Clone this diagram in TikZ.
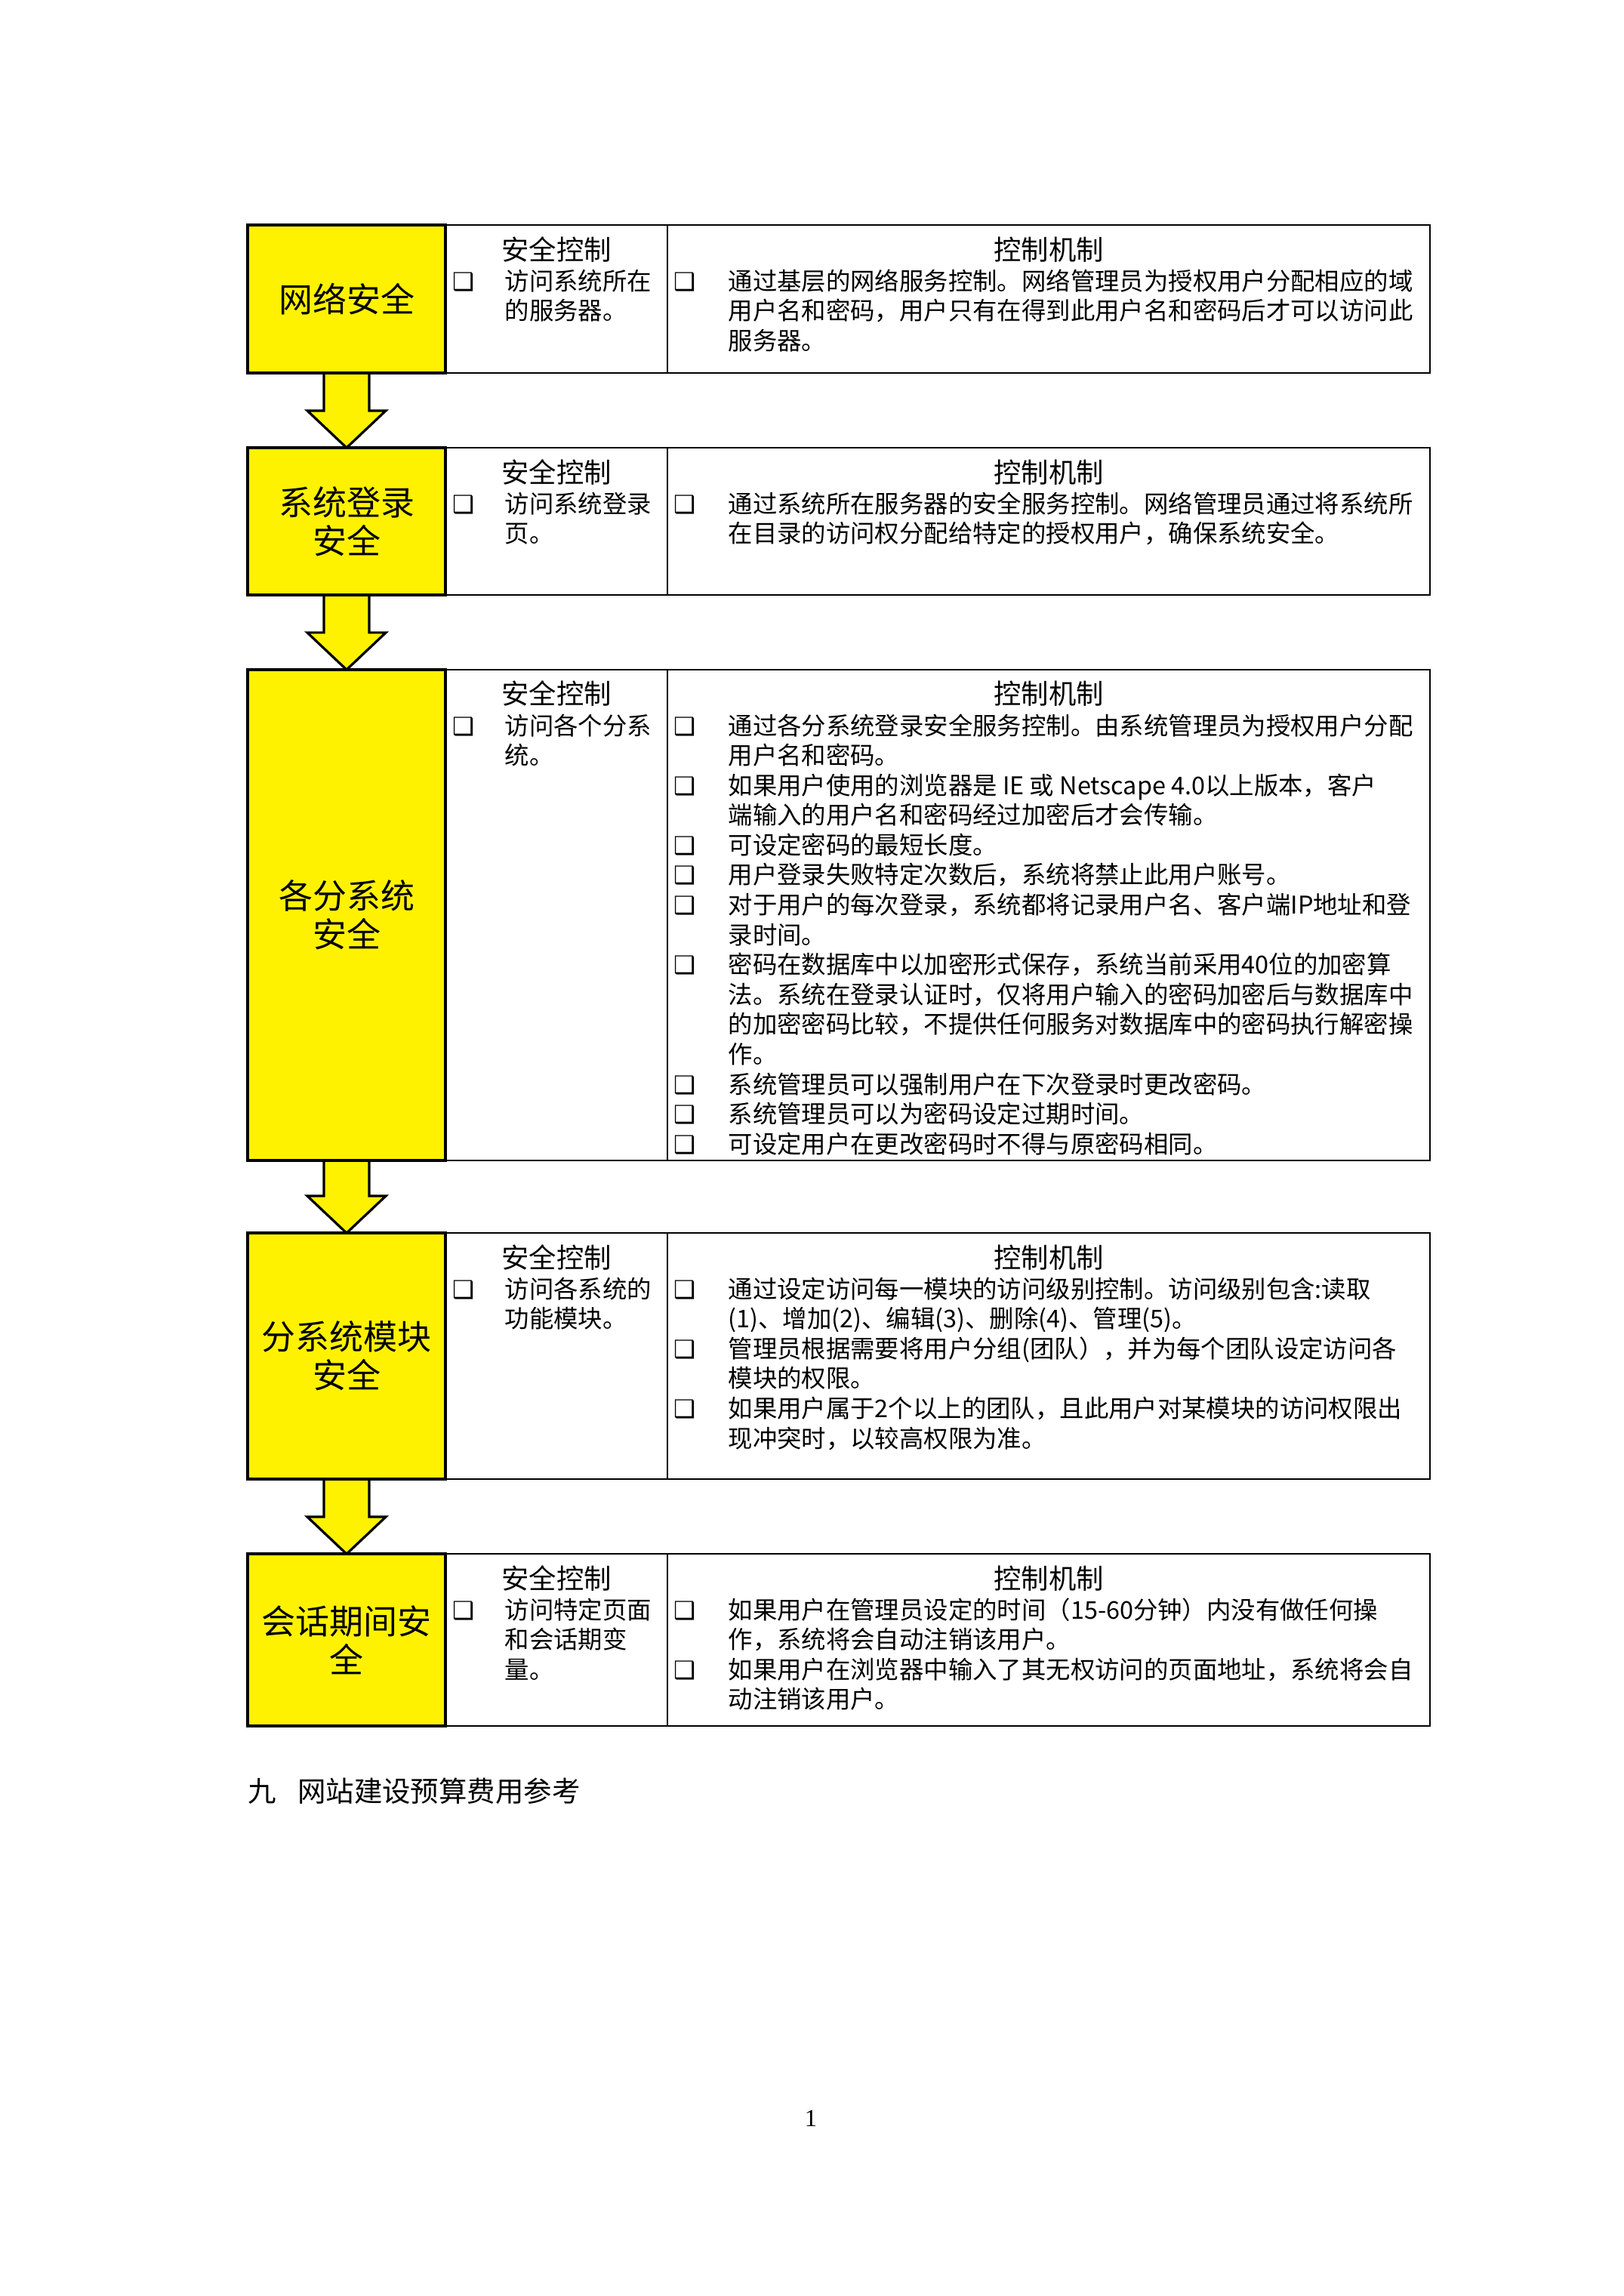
\documentclass[tikz,border=0pt]{standalone}
\usepackage{fontspec}
\newfontfamily\cjk{Noto Sans CJK SC}
\newfontfamily\dingfont{DejaVu Sans}
\newfontfamily\numfont{Liberation Serif}
\usetikzlibrary{calc,positioning,backgrounds}
\newlength\bulind
\newcommand\bul{{\dingfont\bfseries\fontsize{9}{9}\selectfont ❑}}
\newcommand\bitem[1]{\par\noindent\hangindent=\bulind\hangafter=1\makebox[\bulind][l]{\hspace{-0.15cm}\bul}#1}
\newcommand\midlist[1]{\parbox[t]{2.6cm}{\setlength\bulind{0.527cm}#1}}
\newcommand\ctllist[1]{\parbox[t]{9.6cm}{\setlength\bulind{0.557cm}#1}}
\def\blockarr(#1)(#2){\begin{scope}[on background layer]\draw[flowarrow] let \p1=(#1.south), \p2=(#2.north) in (\x1-0.293cm,\y1) -- (\x1-0.293cm,\y2+0.48cm) -- (\x1-0.508cm,\y2+0.48cm) -- (\x1,\y2) -- (\x1+0.508cm,\y2+0.48cm) -- (\x1+0.293cm,\y2+0.48cm) -- (\x1+0.293cm,\y1) -- cycle;\end{scope}}
\tikzset{
	secbox/.style={draw, line width=1.1pt, fill=yellow, minimum width=2.558cm, inner sep=0pt, outer sep=0pt, align=center, font=\cjk\fontsize{12.5}{14.2}\selectfont},
	tableline/.style={line width=0.7pt},
	divline/.style={line width=0.55pt},
	flowarrow/.style={draw=black, fill=yellow, line width=0.9pt, line join=miter},
	headtext/.style={anchor=base, inner sep=0pt, font=\cjk\fontsize{10.1}{12}\selectfont},
	listtext/.style={anchor=base west, inner sep=0pt, font=\cjk\fontsize{9}{11}\selectfont}
}
\begin{document}
\begin{tikzpicture}
				\useasboundingbox (0,0) rectangle (21,-29.7);
				
				\coordinate (colD) at (8.634,0);
				\coordinate (colR) at (18.499,0);
				\coordinate (midC) at (7.198,0);
				\coordinate (rightC) at (13.567,0);
				\coordinate (midB) at (5.996,0);
				\coordinate (rightB) at (8.857,0);
				
				\node[secbox, minimum height=1.914cm] (net) at (4.483,-3.868) {网络安全};
				\node[secbox, minimum height=1.904cm, below=0.967cm of net] (login) {系统登录\\安全};
				\node[secbox, minimum height=6.349cm, below=0.967cm of login] (subsys) {各分系统\\安全};
				\node[secbox, minimum height=3.184cm, below=0.938cm of subsys] (module) {分系统模块\\安全};
				\node[secbox, minimum height=2.227cm, below=0.967cm of module] (session) {会话期间安\\全};
				
				\foreach \r in {net,login,subsys,module,session}{
					\draw[tableline] (\r.north east) rectangle (\r.south -| colR);
					\draw[divline] (\r.north -| colD) -- (\r.south -| colD);
					\node[headtext] (\r-sc) at ($(\r.north -| midC)+(0,-0.449)$) {安全控制};
					\node[headtext] (\r-cm) at ($(\r.north -| rightC)+(0,-0.449)$) {控制机制};
				}
				
				\blockarr(net)(login)
				\blockarr(login)(subsys)
				\blockarr(subsys)(module)
				\blockarr(module)(session)
				
				\node[listtext] (net-scl) at ($(net.north -| midB)+(0,-0.84)$) {\midlist{\bitem{访问系统所在\newline 的服务器。}}};
				\node[listtext] (net-cml) at ($(net.north -| rightB)+(0,-0.84)$) {\ctllist{%
					\bitem{通过基层的网络服务控制。网络管理员为授权用户分配相应的域\newline 用户名和密码，用户只有在得到此用户名和密码后才可以访问此\newline 服务器。}}};
				
				\node[listtext] (login-scl) at ($(login.north -| midB)+(0,-0.84)$) {\midlist{\bitem{访问系统登录\newline 页。}}};
				\node[listtext] (login-cml) at ($(login.north -| rightB)+(0,-0.84)$) {\ctllist{%
					\bitem{通过系统所在服务器的安全服务控制。网络管理员通过将系统所\newline 在目录的访问权分配给特定的授权用户，确保系统安全。}}};
				
				\node[listtext] (subsys-scl) at ($(subsys.north -| midB)+(0,-0.84)$) {\midlist{\bitem{访问各个分系\newline 统。}}};
				\node[listtext] (subsys-cml) at ($(subsys.north -| rightB)+(0,-0.84)$) {\ctllist{%
					\bitem{通过各分系统登录安全服务控制。由系统管理员为授权用户分配\newline 用户名和密码。}
					\bitem{如果用户使用的浏览器是 IE 或 Netscape 4.0以上版本，客户\newline 端输入的用户名和密码经过加密后才会传输。}
					\bitem{可设定密码的最短长度。}
					\bitem{用户登录失败特定次数后，系统将禁止此用户账号。}
					\bitem{对于用户的每次登录，系统都将记录用户名、客户端IP地址和登\newline 录时间。}
					\bitem{密码在数据库中以加密形式保存，系统当前采用40位的加密算\newline 法。系统在登录认证时，仅将用户输入的密码加密后与数据库中\newline 的加密密码比较，不提供任何服务对数据库中的密码执行解密操\newline 作。}
					\bitem{系统管理员可以强制用户在下次登录时更改密码。}
					\bitem{系统管理员可以为密码设定过期时间。}
					\bitem{可设定用户在更改密码时不得与原密码相同。}}};
				
				\node[listtext] (module-scl) at ($(module.north -| midB)+(0,-0.84)$) {\midlist{\bitem{访问各系统的\newline 功能模块。}}};
				\node[listtext] (module-cml) at ($(module.north -| rightB)+(0,-0.84)$) {\ctllist{%
					\bitem{通过设定访问每一模块的访问级别控制。访问级别包含:读取\newline (1)、增加(2)、编辑(3)、删除(4)、管理(5)。}
					\bitem{管理员根据需要将用户分组(团队），并为每个团队设定访问各\newline 模块的权限。}
					\bitem{如果用户属于2个以上的团队，且此用户对某模块的访问权限出\newline 现冲突时，以较高权限为准。}}};
				
				\node[listtext] (session-scl) at ($(session.north -| midB)+(0,-0.84)$) {\midlist{\bitem{访问特定页面\newline 和会话期变\newline 量。}}};
				\node[listtext] (session-cml) at ($(session.north -| rightB)+(0,-0.84)$) {\ctllist{%
					\bitem{如果用户在管理员设定的时间（15-60分钟）内没有做任何操\newline 作，系统将会自动注销该用户。}
					\bitem{如果用户在浏览器中输入了其无权访问的页面地址，系统将会自\newline 动注销该用户。}}};
				
				\node[anchor=base west, inner sep=0pt, font=\cjk\fontsize{10.4}{12}\selectfont] (budget) at ($(session.south west)+(0,-0.977)$) {九\hspace{0.75em}网站建设预算费用参考};
				\node[anchor=base, inner sep=0pt, font=\numfont\fontsize{9}{10}\selectfont] (pageno) at (10.49,-27.51) {1};
\end{tikzpicture}
\end{document}
